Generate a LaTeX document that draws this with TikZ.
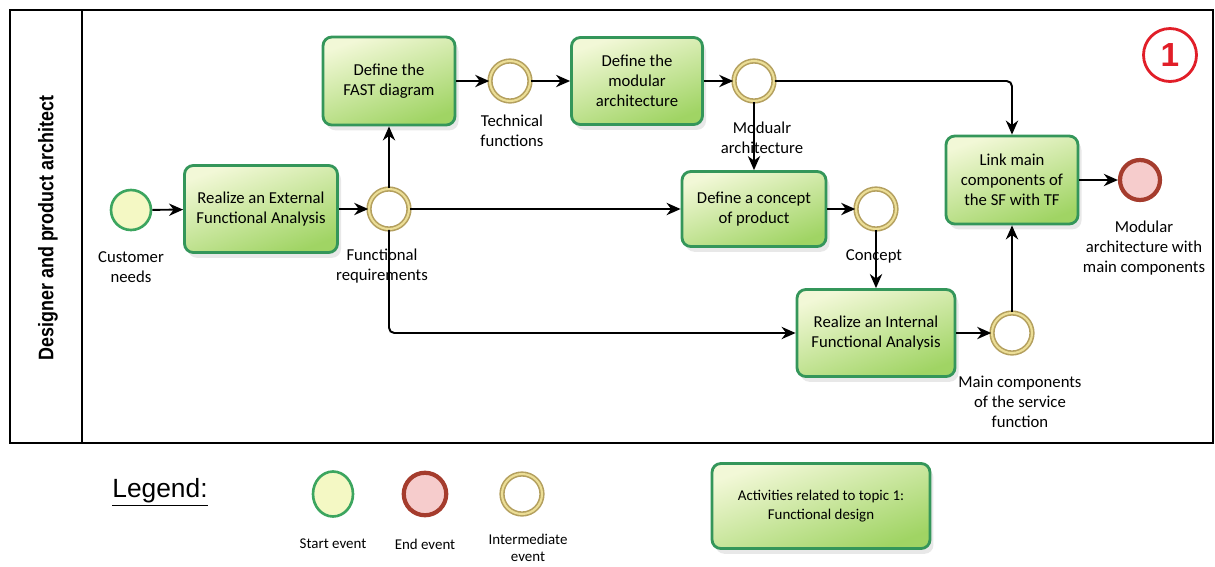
\documentclass[tikz,border=0pt]{standalone}
\usepackage{fontspec}
\setmainfont{Carlito}
\newfontfamily\lanefont[FakeStretch=0.85]{Liberation Sans}
\newfontfamily\legfont{Liberation Sans}
\usetikzlibrary{positioning, arrows.meta, shadows, shapes.geometric}

\definecolor{boxline}{RGB}{52,150,90}
\definecolor{boxlight}{RGB}{242,248,215}
\definecolor{boxdark}{RGB}{160,212,100}
\definecolor{startfill}{RGB}{244,248,196}
\definecolor{startline}{RGB}{60,165,95}
\definecolor{endfill}{RGB}{246,204,204}
\definecolor{endline}{RGB}{165,60,45}
\definecolor{midline}{RGB}{180,160,95}
\definecolor{midinner}{RGB}{236,222,150}
\definecolor{numred}{RGB}{225,30,40}

\begin{document}
\begin{tikzpicture}[x=0.02cm, y=-0.02cm,
	font=\fontsize{9.5}{11.5}\selectfont,
	activity/.style={rectangle, rounded corners=5pt, draw=boxline, line width=1.6pt,
		shading=axis, top color=boxlight, bottom color=boxdark, shading angle=20,
		drop shadow={opacity=0.18, shadow xshift=2pt, shadow yshift=-3pt},
		text centered, align=center, minimum height=1.74cm, minimum width=2.64cm},
	startev/.style={circle, draw=startline, line width=1.5pt, fill=startfill, minimum size=0.8cm},
	endev/.style={circle, draw=endline, line width=2.4pt, fill=endfill, minimum size=0.8cm},
	midev/.style={circle, draw=midline, double=midinner, double distance=1.2pt, line width=0.9pt, fill=white, minimum size=0.8cm},
	evlabel/.style={align=center, inner sep=1pt},
	flow/.style={-{Stealth[length=8pt, width=7pt]}, line width=1.1pt, rounded corners=3pt}]
	\useasboundingbox (0,0) rectangle (1215,566);

	% swimlane
	\draw[line width=0.8pt] (10,10) rectangle (1213,443);
	\draw[line width=0.8pt] (82,10) -- (82,443);
	\node[rotate=90, font=\lanefont\fontsize{12}{14}\selectfont\bfseries] (lane) at (48,228) {Designer and product architect};

	% events
	\node[startev] (custneeds) at (131,210) {};
	\node[midev] (funcreq) at (389,209) {};
	\node[midev] (techfunc) at (510,81) {};
	\node[midev] (modarch) at (754,81) {};
	\node[midev] (concept) at (876,209) {};
	\node[midev] (maincomp) at (1012,333) {};
	\node[endev] (modmain) at (1140,180) {};

	% activities
	\node[activity, minimum width=3.06cm] (extanalysis) at (261,209) {Realize an External\\Functional Analysis};
	\node[activity, minimum height=1.76cm] (fastdiag) at (389,81) {Define the\\FAST diagram};
	\node[activity, minimum width=2.62cm] (modular) at (637,81) {Define the\\modular\\architecture};
	\node[activity, minimum width=2.88cm, minimum height=1.5cm] (defconcept) at (754,209) {Define a concept\\of product};
	\node[activity, minimum width=3.16cm] (intanalysis) at (876,333) {Realize an Internal\\Functional Analysis};
	\node[activity, minimum height=1.76cm] (linkcomp) at (1012,180) {Link main\\components of\\the SF with TF};

	% event labels
	\node[evlabel] (lcustneeds) at (131,267) {Customer\\needs};
	\node[evlabel] (lfuncreq) at (382,266) {Functional\\requirements};
	\node[evlabel] (ltechfunc) at (512,131) {Technical\\functions};
	\node[evlabel] (lmodarch) at (762,138) {Modualr\\architecture};
	\node[evlabel] (lconcept) at (874,256) {Concept};
	\node[evlabel] (lmaincomp) at (1020,402) {Main components\\of the service\\function};
	\node[evlabel] (lmodmain) at (1144,248) {Modular\\architecture with\\main components};

	% number
	\node[circle, draw=numred, line width=1.6pt, minimum size=1.06cm, text=numred,
		font=\legfont\fontsize{19}{22}\selectfont\bfseries] (topicnum) at (1170,55) {1};

	% flows
	\draw[flow] (custneeds) -- (extanalysis);
	\draw[flow] (extanalysis) -- (funcreq);
	\draw[flow] (funcreq) -- (fastdiag);
	\draw[flow] (fastdiag) -- (techfunc);
	\draw[flow] (techfunc) -- (modular);
	\draw[flow] (modular) -- (modarch);
	\draw[flow] (modarch) -- (defconcept);
	\draw[flow] (modarch.east) -| (linkcomp.north);
	\draw[flow] (funcreq) -- (defconcept);
	\draw[flow] (funcreq.south) |- (intanalysis.west);
	\draw[flow] (defconcept) -- (concept);
	\draw[flow] (concept) -- (intanalysis);
	\draw[flow] (intanalysis) -- (maincomp);
	\draw[flow] (maincomp) -- (linkcomp);
	\draw[flow] (linkcomp) -- (modmain);

	% legend
	\node[font=\legfont\fontsize{15}{18}\selectfont] (legend) at (160,492) {\underline{Legend:}};
	\node[startev, ellipse, minimum width=0.8cm, minimum height=0.9cm] (lgstart) at (333,494) {};
	\node[endev, minimum size=0.85cm] (lgend) at (425,494) {};
	\node[midev] (lgmid) at (522,494) {};
	\node[evlabel, font=\fontsize{8.5}{10}\selectfont] (lgstartlab) at (333,544) {Start event};
	\node[evlabel, font=\fontsize{8.5}{10}\selectfont] (lgendlab) at (425,544) {End event};
	\node[evlabel, font=\fontsize{8.5}{10}\selectfont] (lgmidlab) at (528,548) {Intermediate\\event};
	\node[activity, minimum width=4.36cm, minimum height=1.7cm, font=\fontsize{8.5}{11}\selectfont] (lgactivity) at (821,506) {Activities related to topic 1:\\Functional design};
\end{tikzpicture}
\end{document}
